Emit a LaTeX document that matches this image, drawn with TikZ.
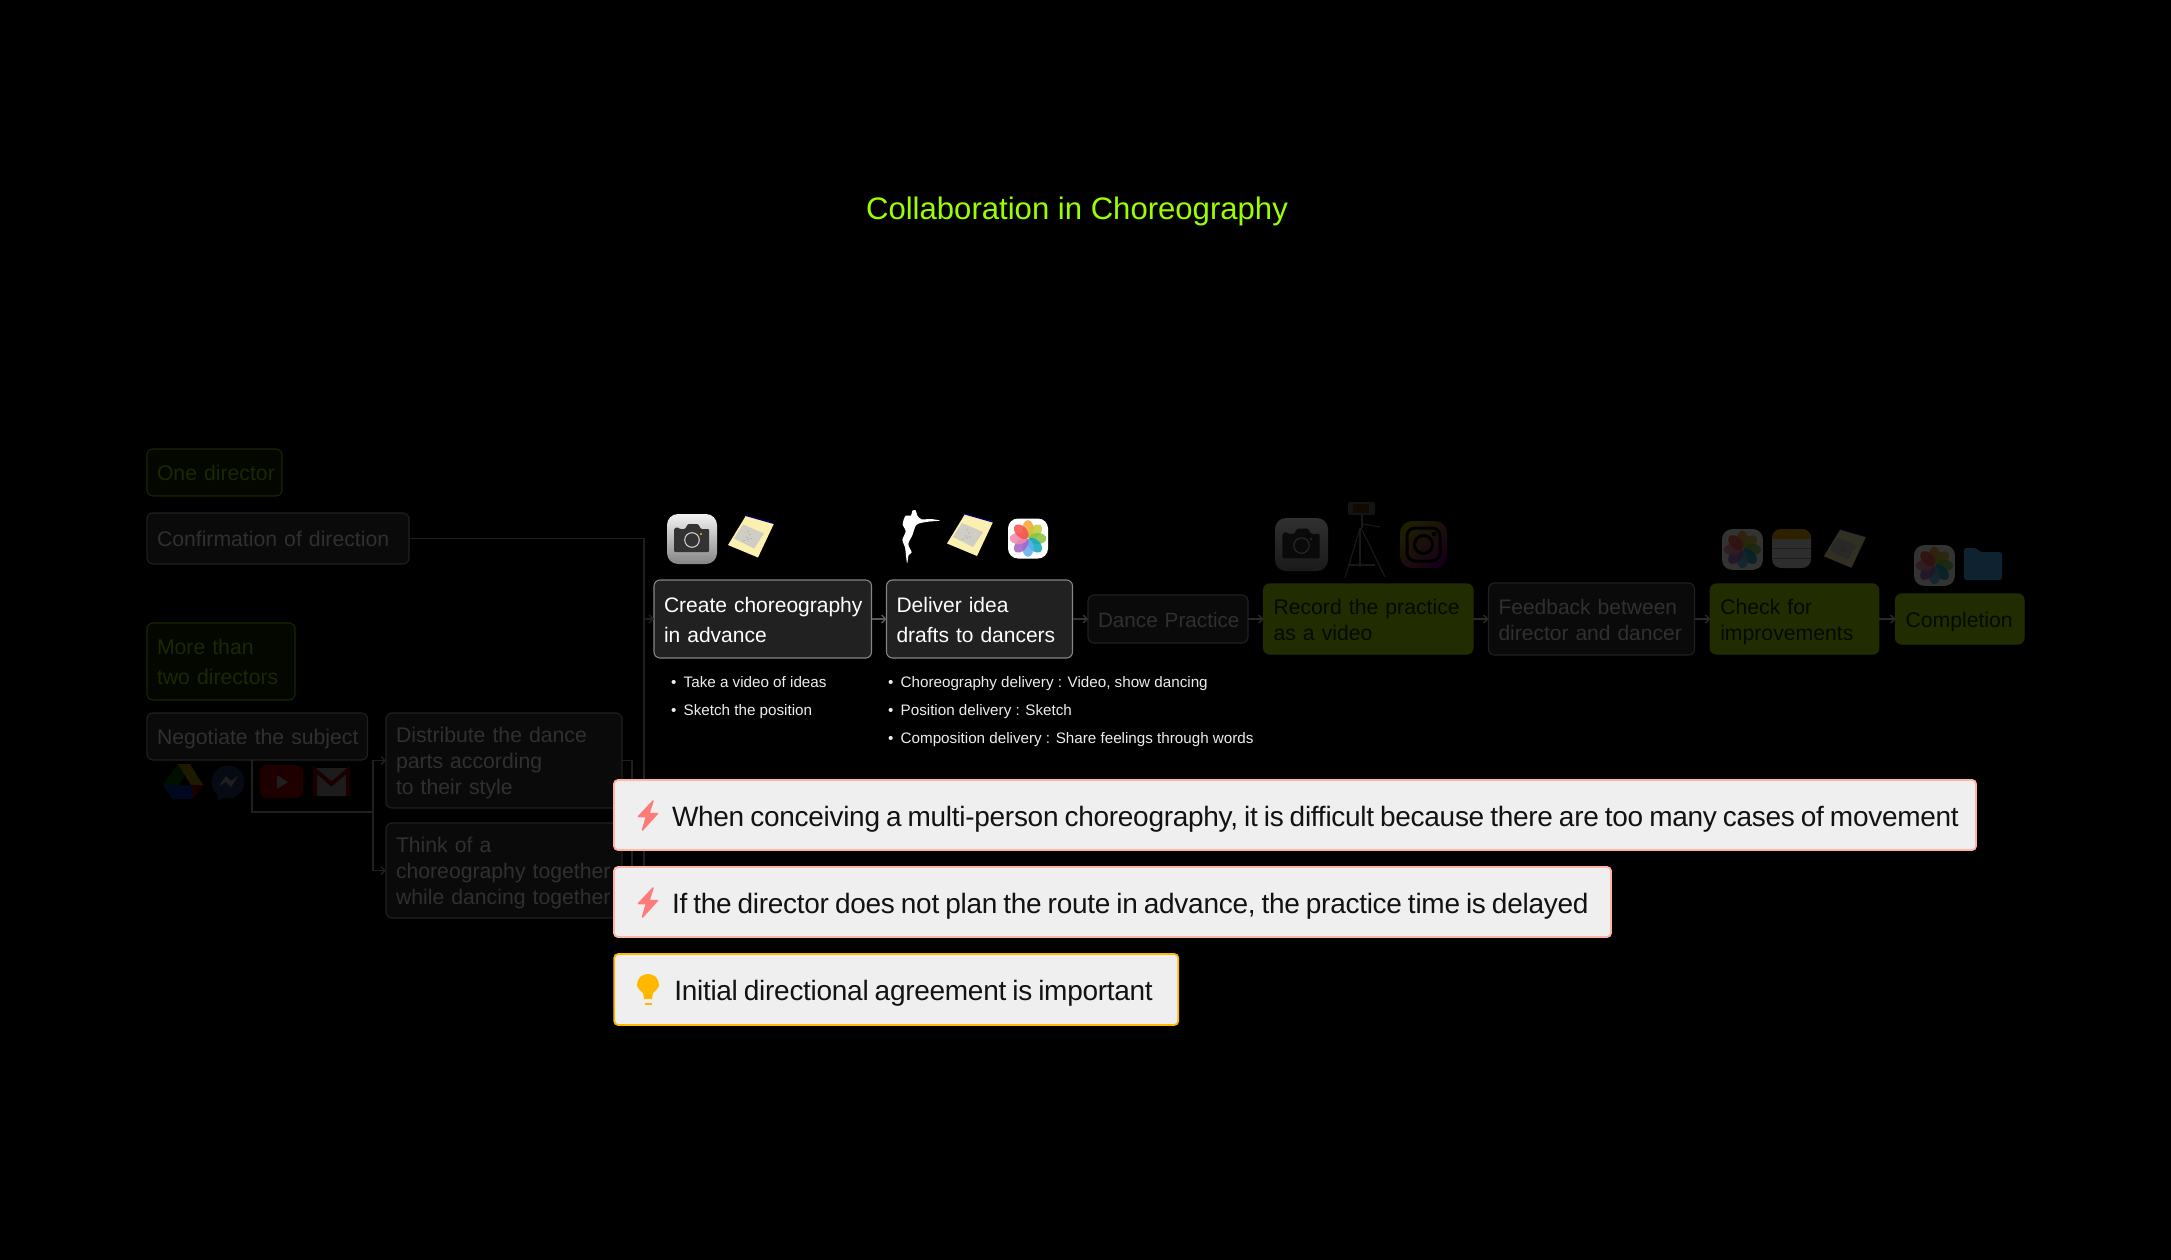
\documentclass[tikz,border=0pt]{standalone}
\usepackage{fontspec}
\setmainfont{Liberation Sans}
\newfontfamily\tightfont[LetterSpace=-1.0]{Liberation Sans}
\usetikzlibrary{arrows.meta}
\definecolor{gborder}{HTML}{172800}
\definecolor{gfill}{HTML}{040600}
\definecolor{gtext}{HTML}{192A00}
\definecolor{dborder}{HTML}{202020}
\definecolor{dfill}{HTML}{0A0A0A}
\definecolor{dtext}{HTML}{303030}
\definecolor{solidgreen}{HTML}{212D00}
\definecolor{solidtext}{HTML}{060900}
\definecolor{salmon}{HTML}{FFB4A6}
\definecolor{calloutfill}{HTML}{EFEFEF}
\definecolor{amber}{HTML}{FFB800}
\definecolor{boltred}{HTML}{FF7B7A}
\definecolor{titlegreen}{HTML}{9BFF00}
\definecolor{ptop}{HTML}{F9A33A}
\definecolor{ptr}{HTML}{C5CA3A}
\definecolor{pr}{HTML}{8AC249}
\definecolor{pbr}{HTML}{14A8C0}
\definecolor{pb}{HTML}{62B0EF}
\definecolor{pbl}{HTML}{A864C9}
\definecolor{pl}{HTML}{F08AB0}
\definecolor{ptl}{HTML}{F4544F}
\definecolor{noteyellow}{HTML}{FBF0B0}
\definecolor{notegray}{HTML}{CFCDC4}
\definecolor{foldercol}{HTML}{0E2230}
\newcommand\bstrut{\rule[-5pt]{0pt}{26pt}}
\newcommand\brightstrut{\rule[-5pt]{0pt}{24pt}}
\newcommand\cstrut{\rule[-5pt]{0pt}{33pt}}
\newcommand\nowrap{\rightskip=-60pt plus 1fil\relax\hyphenpenalty=10000\relax}
\newcommand\tightspace{\spaceskip=6pt\relax}
\tikzset{
  wh/.code 2 args={\pgfmathsetmacro\boxtw{#1-20}\tikzset{text width=\boxtw pt,minimum height=#2 pt}},
  basebox/.style={rounded corners=6pt,align=left,inner xsep=10pt,inner ysep=0pt,outer sep=0pt,line width=1.1pt,
    execute at begin node=\nowrap\bstrut,execute at end node=\bstrut},
  brightbox/.style={basebox,draw=white!52!black,fill=black!87,text=white,font=\fontsize{21}{30}\selectfont,
    execute at begin node=\nowrap\brightstrut,execute at end node=\brightstrut},
  dimbox/.style={basebox,draw=dborder,fill=dfill,text=dtext,font=\fontsize{21.2}{26}\selectfont},
  gdimbox/.style={basebox,draw=gborder,fill=gfill,text=gtext,font=\fontsize{21.2}{30}\selectfont},
  solidbox/.style={basebox,draw=solidgreen,fill=solidgreen,text=solidtext,font=\fontsize{21.2}{26}\selectfont},
  callout/.style={rounded corners=4pt,align=left,inner xsep=2pt,inner ysep=0pt,outer sep=0pt,line width=1.8pt,fill=calloutfill,text=black!93,
    font=\tightfont\fontsize{28}{32}\selectfont,execute at begin node=\nowrap\tightspace\cstrut,execute at end node=\cstrut},
  listitem/.style={anchor=base west,inner sep=0pt,text=white!93!black,font=\fontsize{15.2}{17}\selectfont},
  conn/.style={draw=#1,line width=1.3pt,-{Straight Barb[length=4pt,width=8pt]}},
  wire/.style={draw=#1,line width=1.3pt},
  veil/.style={fill=black,opacity=.8},
  deepveil/.style={fill=black,opacity=.88}
}
\newcommand\camicon[3]{\begin{scope}[shift={(#1,#2)},scale=#3]
  \shade[rounded corners=11pt,top color=white!95!black,bottom color=white!52!black] (-25,-25) rectangle (25,25);
  \fill[black!80,rounded corners=1pt] (-18,-10) -- (-15,-12) -- (-12,-10) -- (-7,-10) -- (-4,-15) -- (6,-15) -- (9,-10) -- (17,-10) -- (17,13) -- (-18,13) -- cycle;
  \draw[white!85!black,line width=1pt] (0,1) circle (7.3);
  \fill[amber] (9,-5) circle (1.2);
\end{scope}}
\newcommand\photoicon[3]{\begin{scope}[shift={(#1,#2)},scale=#3]
  \fill[white,rounded corners=10pt] (-20,-20) rectangle (20,20);
  \foreach \a/\c in {0/ptop,-45/ptr,-90/pr,-135/pbr,180/pb,135/pbl,90/pl,45/ptl}{
    \fill[\c,opacity=.88,rotate=\a] (0,-9.5) ellipse (5.6 and 8.8);}
\end{scope}}
\newcommand\noteicon[3]{\begin{scope}[shift={(#1,#2)},scale=#3]
  \fill[noteyellow] (-5,-21) -- (23,-13) -- (7,21) -- (-23,8.5) -- cycle;
  \fill[notegray] (-8,-12) -- (13,-3) -- (3,12) -- (-17,2) -- cycle;
  \draw[blue!45!black,line width=1.2pt] (-5,-21) -- (23,-13);
  \foreach \p in {(-3,-5),(-1,-2),(-4,1),(0,2),(-3,3),(-7,4)} \fill[black!40] \p circle (.7);
\end{scope}}
\begin{document}
\begin{tikzpicture}[x=1pt,y=-1pt]
\useasboundingbox (0,0) rectangle (2171,1260);
\fill[black] (0,0) rectangle (2171,1260);

\node[inner sep=0pt,text=titlegreen,font=\fontsize{31.1}{36}\selectfont] (title) at (1077,211.5) {Collaboration in Choreography};

% left column
\node[gdimbox,wh={135}{47}] (one) at (214.5,472.5) {One director};
\node[dimbox,wh={262}{51}] (confirm) at (278,538.5) {Confirmation of direction};
\node[gdimbox,wh={148}{77}] (more) at (221,661.5) {More than\\two directors};
\node[dimbox,wh={220.5}{47}] (negotiate) at (257.25,736.5) {Negotiate the subject};
\node[dimbox,wh={236}{95}] (distribute) at (504,760.5) {Distribute the dance\\parts according\\to their style};
\node[dimbox,wh={236}{95}] (think) at (504,870.5) {Think of a\\choreography together\\while dancing together};

% main row
\node[brightbox,wh={217.5}{78}] (create) at (762.75,619) {Create choreography\\in advance};
\node[brightbox,wh={186}{78}] (deliver) at (979.5,619) {Deliver idea\\drafts to dancers};
\node[dimbox,wh={160}{48},font=\fontsize{20.7}{26}\selectfont] (dance) at (1168,619) {Dance Practice};
\node[solidbox,wh={209.5}{70}] (record) at (1368.25,619) {Record the practice\\as a video};
\node[dimbox,wh={206}{72},font=\fontsize{21}{26}\selectfont] (feedback) at (1591.5,619) {Feedback between\\director and dancer};
\node[solidbox,wh={168.5}{70}] (check) at (1794.5,619) {Check for\\improvements};
\node[solidbox,wh={128.5}{50}] (completion) at (1959.75,619) {Completion};

% connectors
\coordinate (nb) at (252,760);
\coordinate (nc) at (252,812);
\coordinate (nd) at (373,812);
\coordinate (ne) at (373,760.5);
\coordinate (nf) at (373,870.5);
\coordinate (ca) at (644,538.5);
\coordinate (cb) at (644,619);
\coordinate (da) at (632,760.5);
\coordinate (db) at (632,870.5);
\coordinate (dc) at (644,870.5);
\draw[wire=dborder] (nb) -- (nc) -- (nd);
\draw[conn=dborder] (nd) -- (ne) -- (distribute.west);
\draw[conn=dborder] (nd) -- (nf) -- (think.west);
\draw[wire=dborder] (distribute.east) -- (da) -- (db);
\draw[wire=dborder] (think.east) -- (db) -- (dc) -- (cb);
\draw[wire=dborder] (confirm.east) -- (ca) -- (cb);
\draw[conn=dborder] (cb) -- (create.west);
\draw[conn=black!65] (create.east) -- (deliver.west);
\draw[conn=black!80] (deliver.east) -- (dance.west);
\draw[conn=black!84] (dance.east) -- (record.west);
\draw[conn=black!84] (record.east) -- (feedback.west);
\draw[conn=black!84] (feedback.east) -- (check.west);
\draw[conn=black!84] (check.east) -- (completion.west);

% bullet lists
\node[listitem] (l1) at (671,687.5) {\makebox[12.5pt][l]{•}Take a video of ideas};
\node[listitem] (l2) at (671,715.5) {\makebox[12.5pt][l]{•}Sketch the position};
\node[listitem] (m1) at (888,687.5) {\makebox[12.5pt][l]{•}Choreography delivery : Video, show dancing};
\node[listitem] (m2) at (888,715.5) {\makebox[12.5pt][l]{•}Position delivery : Sketch};
\node[listitem] (m3) at (888,743.5) {\makebox[12.5pt][l]{•}Composition delivery : Share feelings through words};

% bright icons
\camicon{692}{539}{1}
\noteicon{751}{536.5}{1}
\begin{scope}[shift={(890,500)},scale=1/3]
  \fill[white] plot[smooth cycle,tension=.5] coordinates {(150,62) (122,57) (95,58) (82,47) (77,31) (67,32) (63,47) (47,47) (38,72) (47,94) (37,120) (45,142) (51,190) (56,165) (65,157) (55,132) (67,106) (80,74) (115,65)};
\end{scope}
\noteicon{970}{535}{1}
\photoicon{1028}{538.5}{1}

% dim icons
\camicon{1301.5}{544.5}{1.06}
\fill[veil] (1274,517) rectangle (1329,572);
\begin{scope}[draw=black!90,line width=1.1pt]
  \fill[black!92,rounded corners=1.5pt] (1348,502) rectangle (1375,515);
  \fill[black!93!orange] (1353,504) rectangle (1369,513);
  \draw (1362,515) -- (1362,528);
  \draw (1363,524) -- (1380,527);
  \draw (1360,528) -- (1345,578);
  \draw (1361,528) -- (1385,577);
  \draw (1360,528) -- (1360,567);
  \draw (1348,565) -- (1375,565);
\end{scope}
\shade[rounded corners=12pt,left color=yellow!12!black,middle color=red!13!black,right color=violet!18!black,shading angle=40] (1400,521) rectangle (1447,568);
\draw[black,line width=3pt,rounded corners=8pt] (1407,528) rectangle (1440,561);
\draw[black,line width=3pt] (1423.5,544.5) circle (9);
\fill[black] (1434,534) circle (2.5);
\photoicon{1742.5}{549.5}{1.02}
\fill[veil] (1721,528) rectangle (1764,571);
\fill[white!90!black,rounded corners=9pt] (1772,529) rectangle (1811,568);
\begin{scope}
  \clip[rounded corners=9pt] (1772,529) rectangle (1811,568);
  \fill[amber!90!black] (1772,529) rectangle (1811,539);
  \draw[black!40,line width=1pt] (1772,548) -- (1811,548) (1772,558) -- (1811,558);
\end{scope}
\fill[veil] (1771,528) rectangle (1812,569);
\noteicon{1845}{548.5}{.92}
\fill[veil] (1820,526) rectangle (1868,570);
\photoicon{1934.5}{565.5}{1.02}
\fill[veil] (1913,544) rectangle (1956,587);
\fill[foldercol,rounded corners=2.5pt] (1964,580) -- (1964,548) -- (1976,548) -- (1980,552) -- (2002,552) -- (2002,580) -- cycle;

% left-hand service icons
\fill[green!50!black] (178,764) -- (190,764) -- (173,799) -- (163,785) -- cycle;
\fill[yellow!75!orange] (178,764) -- (190,764) -- (203,785) -- (191,785) -- cycle;
\fill[blue!75!cyan] (163,785) -- (173,799) -- (193,799) -- (203,785) -- cycle;
\fill[red!80!black] (191,785) -- (203,785) -- (193,799) -- cycle;
\fill[cyan!40!blue!80!black] (228,782) circle (16.5);
\fill[cyan!40!blue!80!black] (217,792) -- (218,801) -- (226,796) -- cycle;
\fill[white] (219,786) -- (226,776) -- (231,781) -- (238,776) -- (231,787) -- (226,782) -- cycle;
\fill[red,rounded corners=7pt] (260,765) rectangle (303,798);
\fill[white] (277,775) -- (288,782) -- (277,789) -- cycle;
\fill[white!92!black,rounded corners=2pt] (313,768) rectangle (350,796);
\draw[red!85!black,line width=4pt,line join=miter] (315,796) -- (315,770) -- (331.5,784) -- (348,770) -- (348,796);
\fill[deepveil] (161,762) rectangle (250,803);
\fill[deepveil] (258,763) rectangle (352,800);

% callouts
\node[callout,draw=salmon,wh={1362}{70},text width=1358pt] (c1) at (1295,815) {\hspace*{56pt}When conceiving a multi-person choreography, it is difficult because there are too many cases of movement};
\node[callout,draw=salmon,wh={997}{70},text width=993pt] (c2) at (1112.5,902) {\hspace*{56pt}If the director does not plan the route in advance, the practice time is delayed};
\node[callout,draw=amber,wh={564.5}{71},text width=560pt] (c3) at (896.25,989.5) {\hspace*{58pt}Initial directional agreement is important};

% callout icons
\foreach \dy in {0,87}{
  \begin{scope}[yshift={-\dy pt}]
  \filldraw[boltred,line width=1.5pt,line join=round] (653,801) -- (638.5,816.5) -- (646.5,816.5) -- (642.5,830) -- (657.5,813.5) -- (649,813.5) -- cycle;
  \end{scope}}
\fill[amber] (644,999) -- (643,993) .. controls (640,990) and (637,988) .. (637,985) .. controls (637,978) and (642,974) .. (648,974) .. controls (654,974) and (659,978) .. (659,985) .. controls (659,988) and (656,990) .. (653,993) -- (652,999) -- cycle;
\fill[amber] (644.5,1003) rectangle (652,1005);
\end{tikzpicture}
\end{document}
